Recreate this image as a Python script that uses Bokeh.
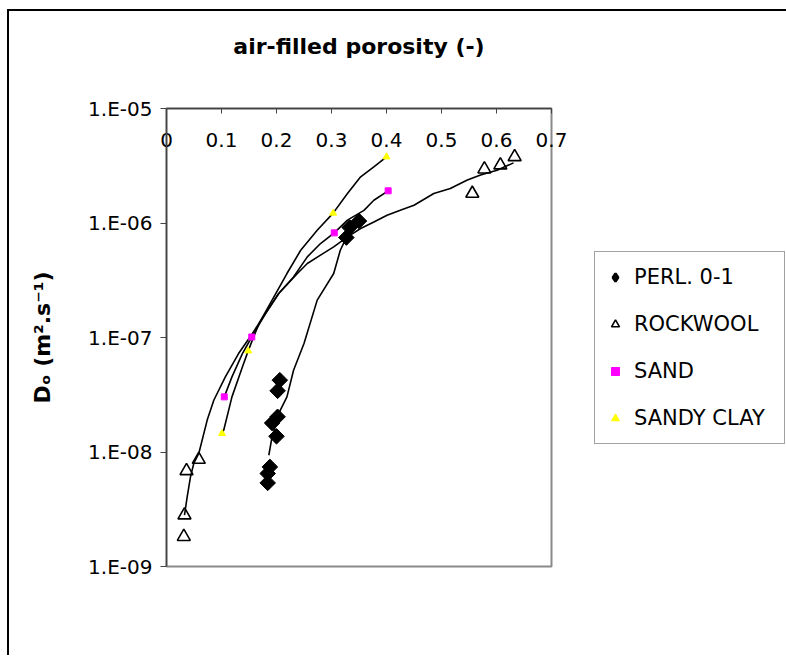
from bokeh.plotting import figure
from bokeh.models import FixedTicker, Legend, LegendItem, Range1d
from bokeh.embed import file_html
from bokeh.resources import INLINE
import math

# ---- data (air-filled porosity, Do in m2/s) ----
perl_x = [0.206, 0.202, 0.202, 0.192, 0.200, 0.188, 0.184, 0.184, 0.327, 0.333, 0.350]
perl_d = [4.24e-8, 3.42e-8, 2.03e-8, 1.79e-8, 1.37e-8, 7.41e-9, 6.49e-9, 5.37e-9, 7.46e-7, 9.14e-7, 1.04e-6]
perl_fit_x = [0.186, 0.192, 0.207, 0.219, 0.231, 0.250, 0.274, 0.304, 0.316, 0.327, 0.338]
perl_fit_d = [9.37e-9, 1.36e-8, 2.32e-8, 3.03e-8, 5.18e-8, 8.87e-8, 2.12e-7, 3.62e-7, 5.78e-7, 7.46e-7, 9.57e-7]

rock_x = [0.0315, 0.0327, 0.0364, 0.0587, 0.556, 0.578, 0.607, 0.633]
rock_d = [1.82e-9, 2.81e-9, 6.84e-9, 8.59e-9, 1.81e-6, 2.95e-6, 3.20e-6, 3.78e-6]
rock_fit_x = [0.0327, 0.0376, 0.0436, 0.0496, 0.0587, 0.074, 0.086, 0.107, 0.131, 0.156, 0.180,
              0.204, 0.238, 0.256, 0.280, 0.304, 0.329, 0.353, 0.377, 0.401, 0.425, 0.450,
              0.486, 0.516, 0.547, 0.571, 0.601, 0.631]
rock_fit_d = [2.81e-9, 4.06e-9, 6.07e-9, 7.94e-9, 9.71e-9, 1.90e-8, 2.83e-8, 4.53e-8, 7.24e-8, 1.08e-7, 1.62e-7,
              2.42e-7, 3.62e-7, 4.43e-7, 5.24e-7, 6.18e-7, 7.57e-7, 8.95e-7, 1.02e-6, 1.17e-6, 1.29e-6, 1.43e-6,
              1.81e-6, 2.00e-6, 2.37e-6, 2.62e-6, 2.89e-6, 3.35e-6]

sand_x = [0.403, 0.305, 0.155, 0.105]
sand_d = [1.91e-6, 8.20e-7, 1.01e-7, 3.03e-8]
sand_fit_x = [0.105, 0.119, 0.138, 0.155, 0.180, 0.204, 0.231, 0.256, 0.280, 0.305, 0.329, 0.359, 0.377, 0.403]
sand_fit_d = [3.03e-8, 4.53e-8, 7.24e-8, 1.01e-7, 1.62e-7, 2.42e-7, 3.38e-7, 5.06e-7, 6.62e-7, 8.20e-7,
              1.06e-6, 1.29e-6, 1.58e-6, 1.91e-6]

clay_x = [0.400, 0.303, 0.1485, 0.101]
clay_d = [3.78e-6, 1.22e-6, 7.64e-8, 1.45e-8]
clay_fit_x = [0.101, 0.104, 0.119, 0.138, 0.1485, 0.168, 0.192, 0.219, 0.244, 0.274, 0.303, 0.329, 0.353, 0.377, 0.400]
clay_fit_d = [1.45e-8, 1.55e-8, 3.03e-8, 5.53e-8, 7.64e-8, 1.32e-7, 2.12e-7, 3.62e-7, 5.78e-7, 8.65e-7,
              1.22e-6, 1.81e-6, 2.53e-6, 3.09e-6, 3.78e-6]

x_ticks = [0, 0.1, 0.2, 0.3, 0.4, 0.5, 0.6, 0.7]
x_tick_labels = ["0", "0.1", "0.2", "0.3", "0.4", "0.5", "0.6", "0.7"]
y_ticks = [1e-9, 1e-8, 1e-7, 1e-6, 1e-5]
y_tick_labels = ["1.E-09", "1.E-08", "1.E-07", "1.E-06", "1.E-05"]

series_names = ["PERL. 0-1", "ROCKWOOL", "SAND", "SANDY CLAY"]

p = figure(frame_width=385, frame_height=458,
           x_range=Range1d(0, 0.7), y_range=Range1d(1e-9, 1e-5),
           y_axis_type="log", x_axis_location="above",
           output_backend="svg", toolbar_location=None,
           min_border_left=157, min_border_top=97, min_border_right=0, min_border_bottom=89,
           styles={"margin-left": "7px", "margin-top": "9px",
                   "border-left": "2px solid black", "border-top": "2px solid black"})

p.background_fill_color = "white"
p.border_fill_color = "white"
p.outline_line_color = "#8a8a8a"
p.outline_line_width = 2
p.xgrid.grid_line_color = None
p.ygrid.grid_line_color = None

xa = p.xaxis[0]
xa.ticker = FixedTicker(ticks=x_ticks)
xa.major_label_overrides = {v: l for v, l in zip(x_ticks, x_tick_labels)}
xa.major_tick_in = 5
xa.major_tick_out = 0
xa.minor_tick_line_color = None
xa.major_label_standoff = -38
xa.axis_line_color = "#444444"
xa.axis_line_width = 1.5
xa.major_tick_line_color = "#444444"
xa.major_label_text_font = "DejaVu Sans"
xa.major_label_text_font_size = "20px"
xa.major_label_text_color = "black"
xa.axis_label = "air-filled porosity (-)"
xa.axis_label_text_font = "DejaVu Sans"
xa.axis_label_text_font_size = "22px"
xa.axis_label_text_font_style = "bold"
xa.axis_label_text_color = "black"
xa.axis_label_standoff = 71

ya = p.yaxis[0]
ya.ticker = FixedTicker(ticks=y_ticks)
ya.major_label_overrides = {v: l for v, l in zip(y_ticks, y_tick_labels)}
ya.major_tick_in = 0
ya.major_tick_out = 6
ya.minor_tick_line_color = None
ya.major_label_standoff = 8
ya.axis_line_color = "#444444"
ya.axis_line_width = 1.5
ya.major_tick_line_color = "#444444"
ya.major_label_text_font = "DejaVu Sans"
ya.major_label_text_font_size = "20px"
ya.major_label_text_color = "black"
ya.axis_label = "Dₒ (m².s⁻¹)"
ya.axis_label_text_font = "DejaVu Sans"
ya.axis_label_text_font_size = "22px"
ya.axis_label_text_font_style = "bold"
ya.axis_label_text_color = "black"
ya.axis_label_standoff = 30

# fitted curves
for fx, fd in [(perl_fit_x, perl_fit_d), (rock_fit_x, rock_fit_d), (sand_fit_x, sand_fit_d), (clay_fit_x, clay_fit_d)]:
    p.line(fx, fd, line_color="black", line_width=1.6)

r_perl = p.scatter(perl_x, perl_d, marker="square", angle=math.pi / 4, size=11,
                   fill_color="black", line_color="black")
# diamond-shaped copy (hidden inside the rotated squares) so the legend key is a diamond
r_perl_key = p.scatter(perl_x, perl_d, marker="diamond", size=12,
                       fill_color="black", line_color="black", line_width=2.5)
r_rock = p.scatter(rock_x, rock_d, marker="triangle", size=13, fill_color=None,
                   line_color="black", line_width=1.6)
r_sand = p.scatter(sand_x, sand_d, marker="square", size=6, fill_color="#FF00FF", line_color="#FF00FF")
r_clay = p.scatter(clay_x, clay_d, marker="triangle", size=7, fill_color="#FFFF00", line_color="#FFFF00")

legend = Legend(items=[LegendItem(label=n, renderers=[r]) for n, r in
                       zip(series_names, [r_perl_key, r_rock, r_sand, r_clay])],
                location=(43, 122), orientation="vertical",
                border_line_color="#444444", border_line_width=1,
                background_fill_color="white", background_fill_alpha=1,
                padding=10, spacing=17, margin=0,
                glyph_width=20, glyph_height=30, label_height=30, label_standoff=9,
                label_width=140,
                label_text_font="DejaVu Sans", label_text_font_size="21px",
                label_text_color="black")
p.add_layout(legend, "right")

open("out.html", "w").write(file_html(p, INLINE))
